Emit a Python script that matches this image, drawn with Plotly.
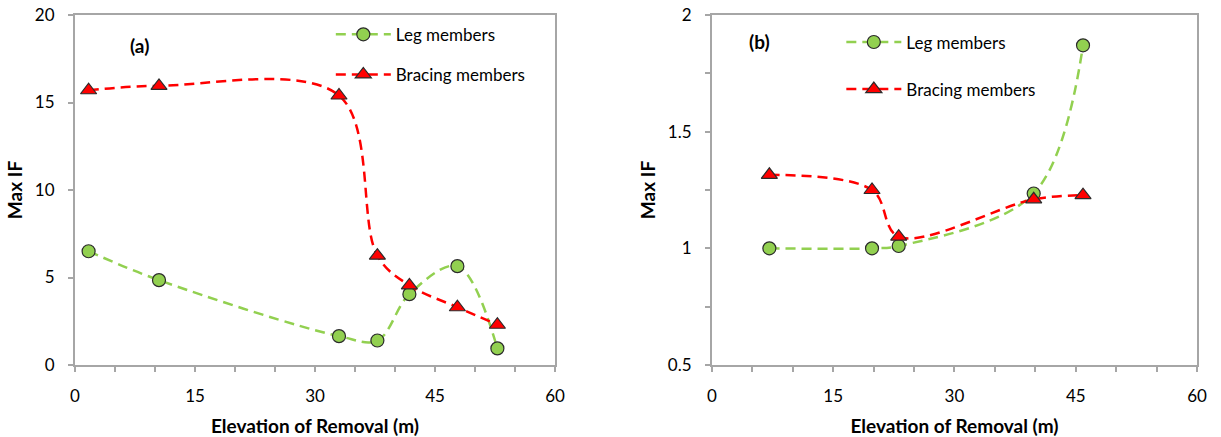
import plotly.graph_objects as go

# ---- data (a) ----
a_leg_x = [1.7, 10.5, 33.0, 37.8, 41.8, 47.8, 52.8]
a_leg_y = [6.5, 4.85, 1.65, 1.4, 4.05, 5.65, 0.95]
a_brc_x = [1.7, 10.5, 33.0, 37.8, 41.8, 47.8, 52.8]
a_brc_y = [15.7, 15.95, 15.4, 6.25, 4.55, 3.3, 2.3]

# ---- data (b) ----
b_leg_x = [7.1, 19.8, 23.1, 39.8, 45.9]
b_leg_y = [1.0, 1.0, 1.01, 1.235, 1.87]
b_brc_x = [7.1, 19.8, 23.1, 39.8, 45.9]
b_brc_y = [1.315, 1.25, 1.05, 1.21, 1.228]

series_names = ["Leg members", "Bracing members"]
panel_labels = ["(a)", "(b)"]
x_title = "Elevation of Removal (m)"
y_title = "Max IF"

GREEN = "#92D050"
RED = "#FF0000"
EDGE = "#2b2b2b"
AXC = "#A6A6A6"
FONT = "Lato, Open Sans, sans-serif"

fig = go.Figure()

def add_pair(xl, yl, xb, yb, xa, ya, leg):
    fig.add_trace(go.Scatter(
        x=xl, y=yl, mode="lines+markers", name=series_names[0],
        xaxis=xa, yaxis=ya, legend=leg, legendgroup="g1",
        line=dict(color=GREEN, width=2.5, dash="10px,6px", shape="spline", smoothing=1.0),
        marker=dict(symbol="circle", size=13, color=GREEN, line=dict(color=EDGE, width=1.2)),
    ))
    fig.add_trace(go.Scatter(
        x=xb, y=yb, mode="lines+markers", name=series_names[1],
        xaxis=xa, yaxis=ya, legend=leg, legendgroup="g2",
        line=dict(color=RED, width=2.5, dash="10px,6px", shape="spline", smoothing=1.0),
        marker=dict(symbol="triangle-up", size=14, color=RED, line=dict(color=EDGE, width=1.2)),
    ))

add_pair(a_leg_x, a_leg_y, a_brc_x, a_brc_y, "x", "y", "legend")
add_pair(b_leg_x, b_leg_y, b_brc_x, b_brc_y, "x2", "y2", "legend2")

title_font = dict(family=FONT, size=19, color="#000", weight="bold")
axis_common = dict(
    showline=True, linecolor=AXC, linewidth=2, mirror=True, automargin=False,
    showgrid=False, zeroline=False, ticks="outside", ticklen=5,
    tickcolor=AXC, tickwidth=1.5,
    tickfont=dict(family=FONT, size=17, color="#000"),
)
xcommon = dict(axis_common, range=[0, 60], dtick=15, tick0=0,
               minor=dict(dtick=5, ticks="outside", ticklen=5, tickcolor=AXC, tickwidth=1.5),
               ticklabelstandoff=10,
               title=dict(text=x_title, font=title_font, standoff=14))

fig.update_layout(
    width=1221, height=437,
    margin=dict(l=75, r=24, t=15, b=72),
    paper_bgcolor="white", plot_bgcolor="white",
    xaxis=dict(xcommon, domain=[0, 0.4278], anchor="y"),
    xaxis2=dict(xcommon, domain=[0.5677, 1], anchor="y2"),
    yaxis=dict(axis_common, range=[0, 20], dtick=5, anchor="x", ticklabelstandoff=10,
               title=dict(text=y_title, font=title_font, standoff=7)),
    yaxis2=dict(axis_common, range=[0.5, 2], dtick=0.5, anchor="x2", ticklabelstandoff=10,
                minor=dict(dtick=0.25, ticks="outside", ticklen=5, tickcolor=AXC, tickwidth=1.5),
                title=dict(text=y_title, font=title_font, standoff=7)),
    legend=dict(x=0.228, y=0.995, xanchor="left", yanchor="top", xref="paper", yref="paper",
                bgcolor="rgba(0,0,0,0)", itemwidth=55, tracegroupgap=15,
                font=dict(family=FONT, size=17, color="#000")),
    legend2=dict(x=0.683, y=0.973, xanchor="left", yanchor="top", xref="paper", yref="paper",
                 bgcolor="rgba(0,0,0,0)", itemwidth=55, tracegroupgap=22,
                 font=dict(family=FONT, size=17, color="#000")),
    showlegend=True,
)

fig.add_annotation(x=0.0472, y=0.952, xref="paper", yref="paper", text=panel_labels[0],
                   showarrow=False, font=dict(family=FONT, size=19, color="#000", weight="bold"))
fig.add_annotation(x=0.6105, y=0.962, xref="paper", yref="paper", text=panel_labels[1],
                   showarrow=False, font=dict(family=FONT, size=19, color="#000", weight="bold"))

fig.write_html("out.html")
